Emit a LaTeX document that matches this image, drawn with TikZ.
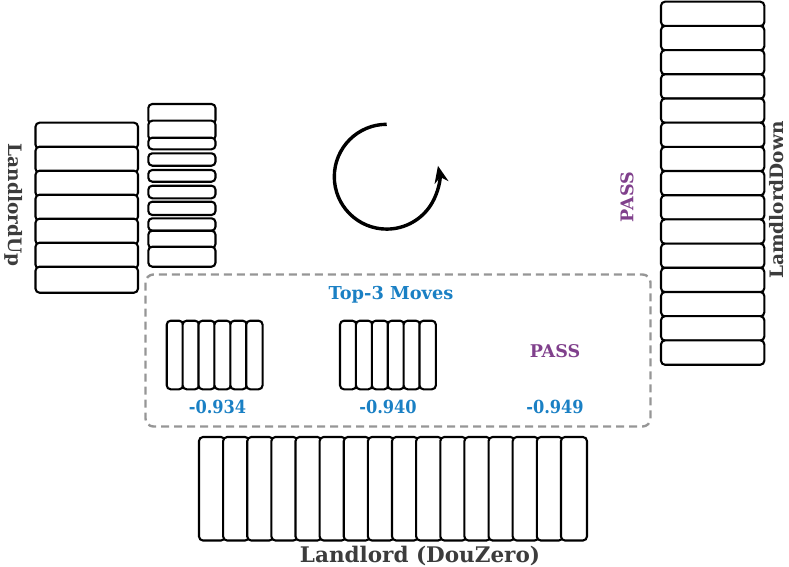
\documentclass[tikz,border=0pt]{standalone}
\usepackage{fontspec}
\setmainfont{DejaVu Serif}
\newfontfamily\condserif{DejaVu Serif Condensed}
\usetikzlibrary{arrows.meta}
\definecolor{lblgray}{RGB}{60,60,60}
\definecolor{moveblue}{RGB}{26,128,196}
\definecolor{passpurple}{RGB}{128,64,140}
\definecolor{boxgray}{RGB}{150,150,150}
\tikzset{
  card/.style={draw=black, line width=2.1pt, fill=white, rounded corners=4pt},
  movebox/.style={draw=boxgray, line width=2.4pt, dash pattern=on 8pt off 5pt, rounded corners=8pt},
  player/.style={text=lblgray, font=\bfseries\fontsize{21.5}{24}\selectfont, inner sep=0pt},
  sideplayer/.style={text=lblgray, font=\bfseries\fontsize{18.5}{22}\selectfont, inner sep=0pt},
  movetitle/.style={text=moveblue, font=\bfseries\fontsize{17.8}{20}\selectfont, inner sep=0pt},
  score/.style={text=moveblue, font=\condserif\bfseries\fontsize{18}{20}\selectfont, inner sep=0pt},
  passlbl/.style={text=passpurple, font=\bfseries\fontsize{17.5}{20}\selectfont, inner sep=0pt},
  turnarrow/.style={line width=3.4pt, -{Stealth[length=17pt,width=14pt]}}
}
\begin{document}
\begin{tikzpicture}[x=1pt,y=-1pt]
\useasboundingbox (0,0) rectangle (789,567);
% Landlord (bottom) hand
\foreach \i in {0,...,15}{
  \draw[card] ({199+24.13*\i},437) rectangle ({199+24.13*\i+26},540.5);
}
% LandlordUp hand
\foreach \i in {0,...,6}{
  \draw[card] (35.5,{122.7+24*\i}) rectangle (138,{122.7+24*\i+26});
}
% LandlordUp played cards
\foreach \t/\b in {104/124, 120.7/140, 137.7/149.3, 153.3/165.7, 170/181.7, 185.7/198.3, 201.7/215, 218.3/230.7, 230.7/248, 246.7/266.7}{
  \draw[card] (148.3,\t) rectangle (215.5,\b);
}
% LamdlordDown hand
\foreach \i in {0,...,14}{
  \draw[card] (661,{1.7+24.19*\i}) rectangle (764.3,{1.7+24.19*\i+24.4});
}
% Top-3 moves box
\draw[movebox] (145.5,274.5) rectangle (650.5,426.5);
\node[movetitle] (title) at (391,295) {Top-3 Moves};
\foreach \i in {0,...,5}{
  \draw[card] ({166.7+15.9*\i},320.7) rectangle ({166.7+15.9*\i+16.4},389.3);
  \draw[card] ({340+15.9*\i},320.7) rectangle ({340+15.9*\i+16.4},389.3);
}
\node[score] (s1) at (217.5,407) {-0.934};
\node[score] (s2) at (388,407) {-0.940};
\node[score] (s3) at (555,407) {-0.949};
\node[passlbl] (p3) at (555,351) {PASS};
% player labels
\node[player] (ll) at (420,556) {Landlord (DouZero)};
\node[sideplayer, rotate=-90] (lu) at (14,205) {LandlordUp};
\node[sideplayer, rotate=90] (ld) at (777,200) {LamdlordDown};
\node[passlbl, rotate=90] (pd) at (627,197) {PASS};
% turn arrow
\coordinate (c) at (386.7,176.7);
\draw[turnarrow] (386.7,124.3) arc[start angle=-90, end angle=-372, radius=52.4];
\end{tikzpicture}
\end{document}
